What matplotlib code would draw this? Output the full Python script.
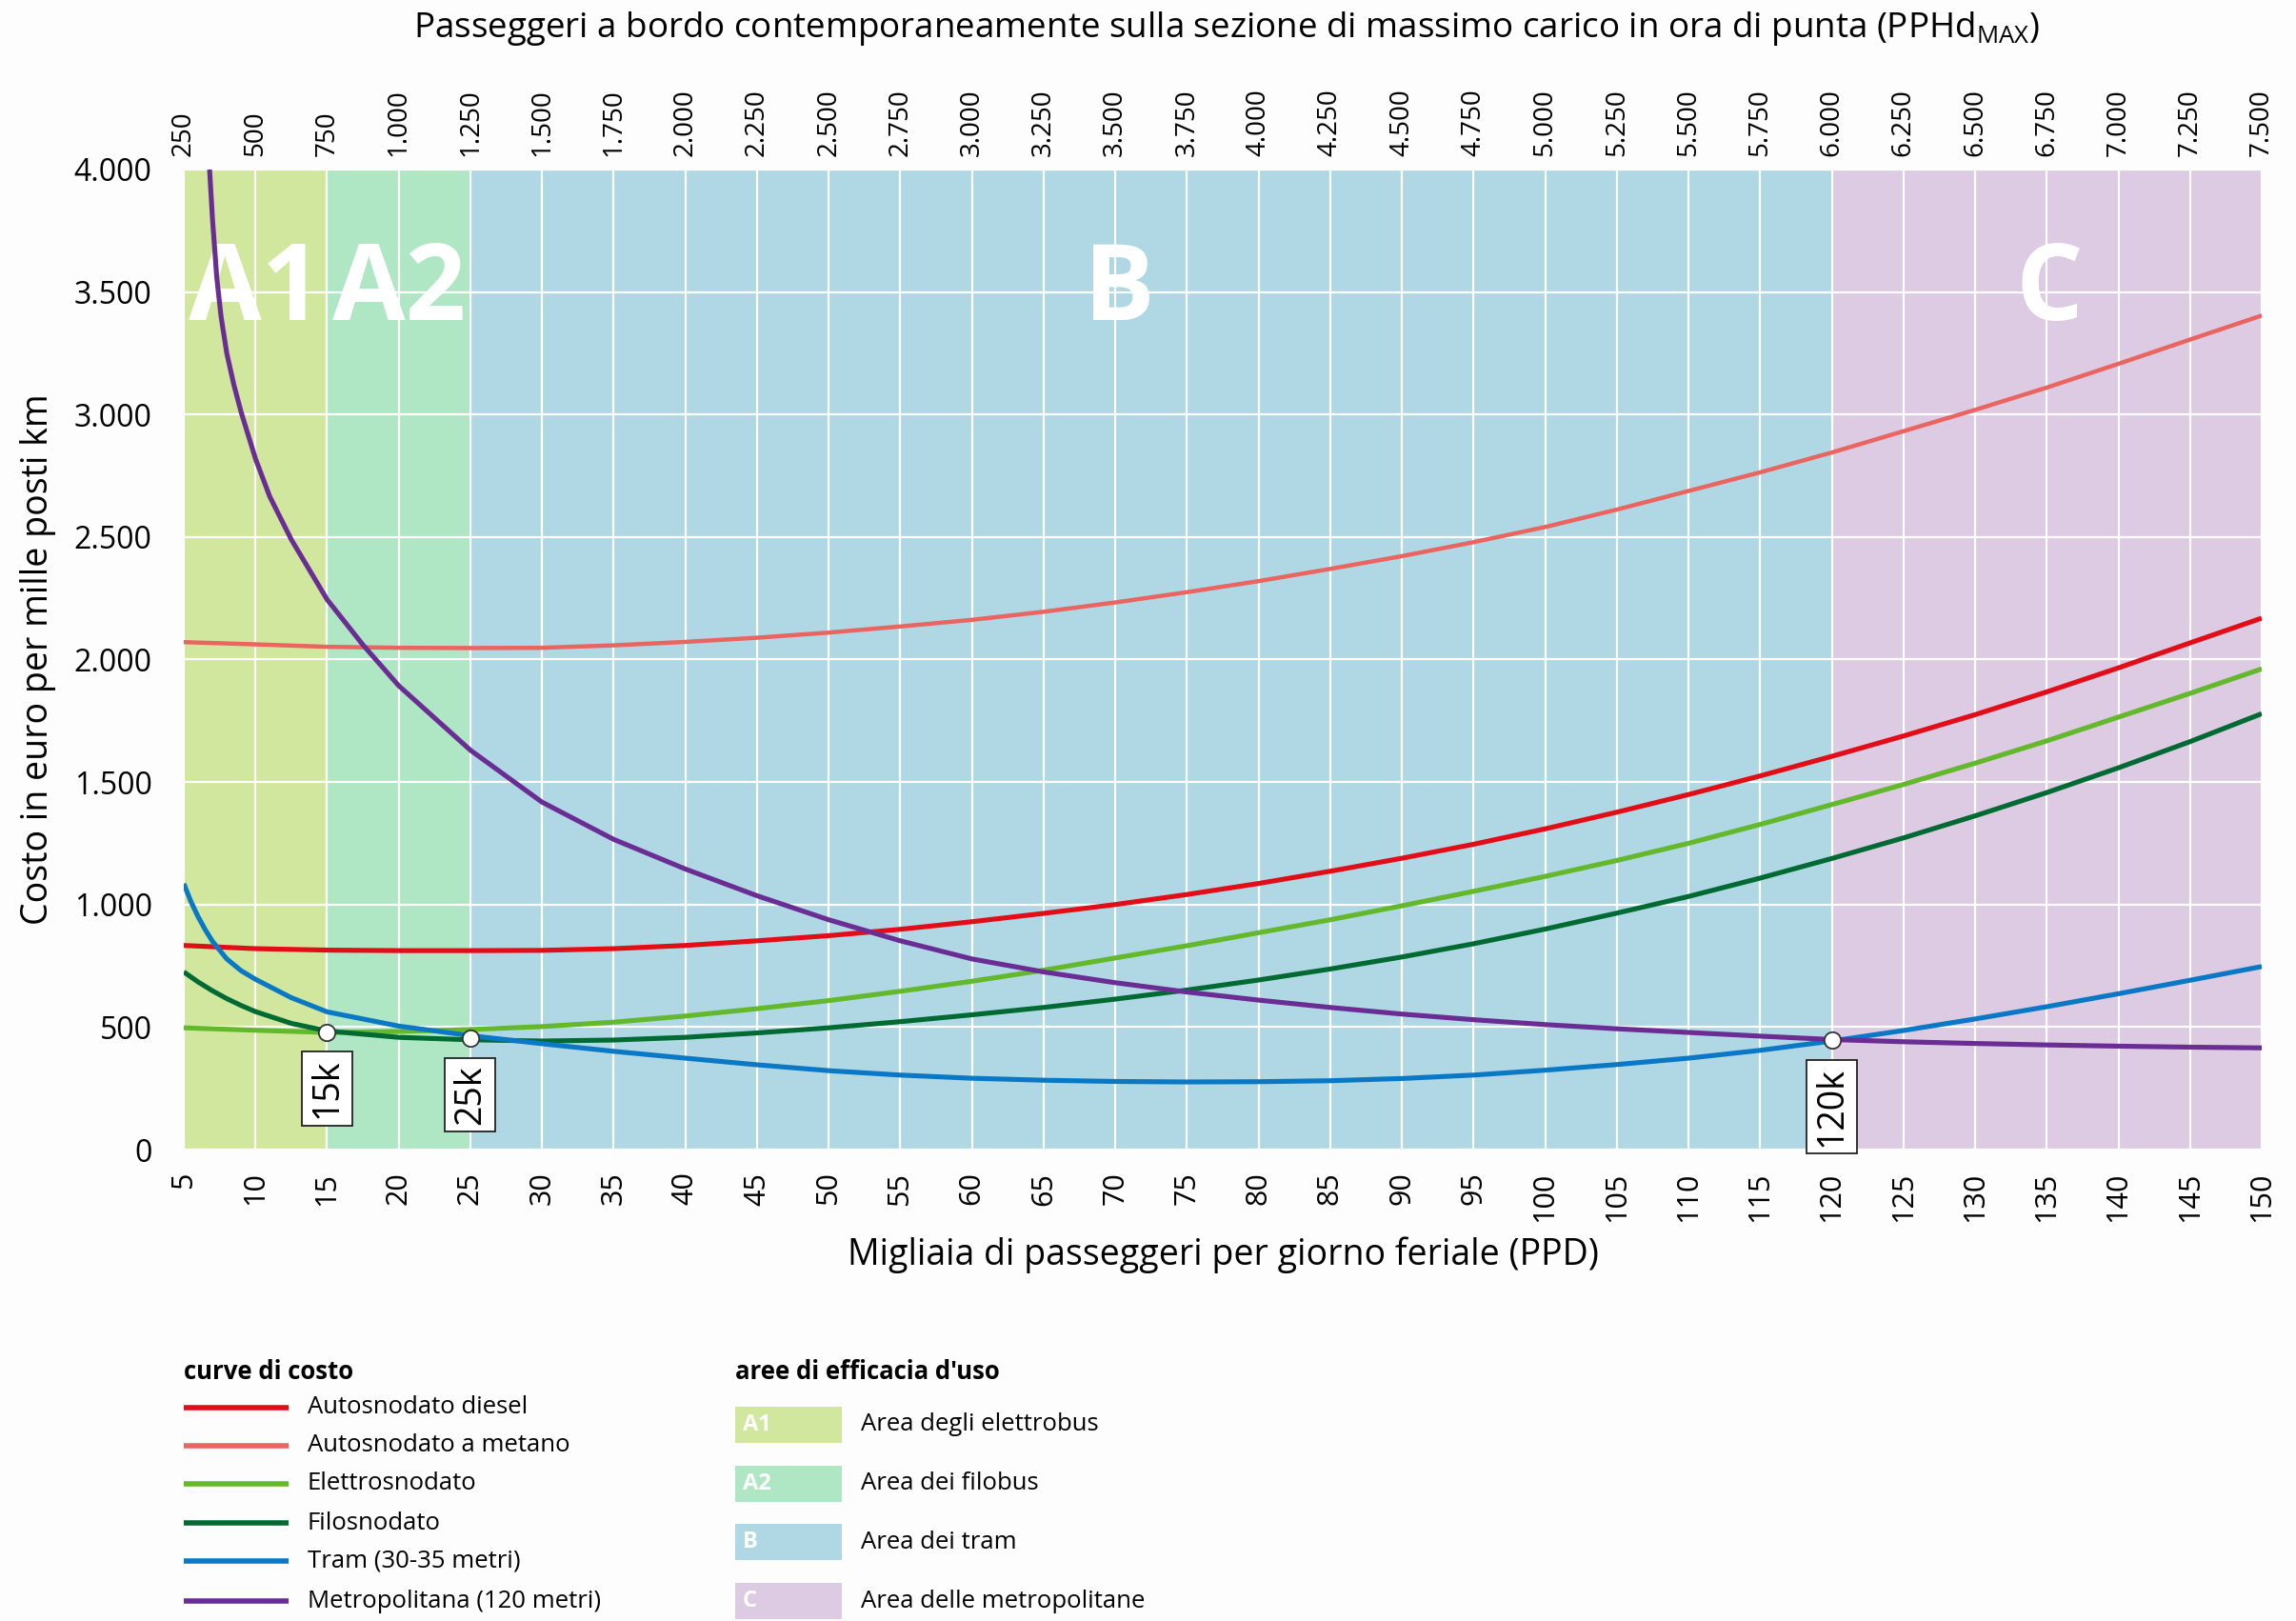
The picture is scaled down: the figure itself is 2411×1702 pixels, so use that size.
import matplotlib
matplotlib.use("Agg")
import matplotlib.pyplot as plt
from matplotlib import font_manager
from matplotlib.patches import Rectangle
from matplotlib.ticker import FuncFormatter

# ---------------------------------------------------------------- fonts
_available = {f.name for f in font_manager.fontManager.ttflist}


def pick(*names):
    for n in names:
        if n in _available:
            return n
    return "DejaVu Sans"


FONT = pick("Open Sans", "Noto Sans", "DejaVu Sans")
plt.rcParams["font.family"] = [FONT, "DejaVu Sans"]
plt.rcParams["mathtext.fontset"] = "custom"
plt.rcParams["mathtext.rm"] = FONT

# ---------------------------------------------------------------- data
# thousands of passengers per weekday (PPD) -> cost in euro per 1000 seat-km
ppd_diesel = [5, 10, 15, 20, 25, 30, 35, 40, 45, 50, 55, 60, 65, 70, 75,
              80, 85, 90, 95, 100, 105, 110, 115, 120, 125, 130, 135, 140, 145, 150]
cost_diesel = [833, 820, 814, 812, 812, 813, 820, 833, 852, 873, 899, 930, 964, 1000, 1041,
               1086, 1136, 1189, 1246, 1309, 1377, 1449, 1525, 1605, 1688, 1775, 1868, 1966, 2068, 2169]

ppd_metano = ppd_diesel
cost_metano = [2071, 2062, 2052, 2048, 2047, 2048, 2058, 2072, 2089, 2110, 2135, 2162, 2195, 2233, 2275,
               2320, 2370, 2422, 2479, 2541, 2612, 2688, 2764, 2845, 2932, 3019, 3110, 3207, 3306, 3404]

ppd_elettro = ppd_diesel
cost_elettro = [497, 487, 478, 482, 490, 502, 520, 545, 575, 608, 646, 687, 732, 782, 832,
                885, 938, 995, 1054, 1115, 1180, 1250, 1327, 1408, 1490, 1577, 1668, 1765, 1862, 1962]

ppd_filo = [5, 6, 7, 8, 9, 10, 12.5, 15, 20, 25, 30, 35, 40, 45, 50, 55, 60, 65, 70, 75,
            80, 85, 90, 95, 100, 105, 110, 115, 120, 125, 130, 135, 140, 145, 150]
cost_filo = [725, 684, 648, 616, 588, 563, 515, 484, 458, 448, 443, 447, 458, 476, 497, 522, 550, 580, 614, 651,
             692, 737, 786, 840, 900, 965, 1033, 1108, 1188, 1272, 1362, 1457, 1558, 1665, 1779]

ppd_tram = [5, 5.5, 6, 6.5, 7, 8, 9, 10, 12.5, 15, 20, 25, 30, 35, 40, 45, 50, 55, 60, 65, 70, 75,
            80, 85, 90, 95, 100, 105, 110, 115, 120, 125, 130, 135, 140, 145, 150]
cost_tram = [1085, 1012, 950, 897, 850, 778, 730, 695, 620, 562, 504, 465, 432, 401, 373, 346, 322, 304, 291,
             283, 278, 276, 277, 281, 290, 304, 324, 347, 373, 405, 443, 486, 533, 583, 636, 691, 747]

ppd_metro = [6.8, 7, 7.3, 7.6, 8, 8.5, 9, 10, 11, 12.5, 15, 17.5, 20, 25, 30, 35, 40, 45, 50, 55, 60, 65,
             70, 75, 80, 85, 90, 95, 100, 105, 110, 115, 120, 125, 130, 135, 140, 145, 150]
cost_metro = [4000, 3800, 3560, 3400, 3250, 3120, 3010, 2820, 2665, 2490, 2245, 2060, 1893, 1630, 1418, 1266,
              1145, 1036, 938, 852, 778, 725, 681, 643, 610, 580, 553, 530, 510, 493, 478, 463, 449, 440, 433,
              427, 422, 418, 415]

series_names = ["Autosnodato diesel", "Autosnodato a metano", "Elettrosnodato",
                "Filosnodato", "Tram (30-35 metri)", "Metropolitana (120 metri)"]
series_x = [ppd_diesel, ppd_metano, ppd_elettro, ppd_filo, ppd_tram, ppd_metro]
series_y = [cost_diesel, cost_metano, cost_elettro, cost_filo, cost_tram, cost_metro]
series_colors = ["#e30d17", "#ea6460", "#64b82c", "#006a33", "#0a78c4", "#6a2d94"]
series_widths = [3.7, 3.2, 3.7, 3.7, 3.7, 3.7]

# areas of effective use
zone_codes = ["A1", "A2", "B", "C"]
zone_names = ["Area degli elettrobus", "Area dei filobus", "Area dei tram", "Area delle metropolitane"]
zone_start = [5, 15, 25, 120]
zone_end = [15, 25, 120, 150]
zone_colors = ["#d1e79d", "#afe6c3", "#b0d8e4", "#dccbe2"]
zone_code_x = [10, 20, 70.3, 135.2]

# thresholds between areas (thousands PPD) and the cost where curves meet
threshold_ppd = [15, 25, 120]
threshold_cost = [480, 453, 447]
threshold_labels = ["15k", "25k", "120k"]

x_ticks = list(range(5, 151, 5))
y_ticks = list(range(0, 4001, 500))
pphd_ticks = list(range(250, 7501, 250))
PPHD_PER_KPPD = 50

# ---------------------------------------------------------------- figure
W, H = 2411, 1702
BG = "#fdfdfd"
fig = plt.figure(figsize=(W / 100, H / 100), dpi=100, facecolor=BG)
ax = fig.add_axes([193 / W, 1 - 1207 / H, (2375 - 193) / W, (1207 - 178) / H])
ax.set_xlim(5, 150)
ax.set_ylim(0, 4000)

for x0, x1, c in zip(zone_start, zone_end, zone_colors):
    ax.axvspan(x0, x1, color=c, lw=0, zorder=0)

ax.set_xticks(x_ticks)
ax.set_yticks(y_ticks)
ax.set_axisbelow(True)
ax.grid(True, color="white", lw=1.6)
for s in ax.spines.values():
    s.set_visible(False)


def dot_thousands(v, _pos=None):
    return f"{int(round(v)):,}".replace(",", ".")


ax.yaxis.set_major_formatter(FuncFormatter(dot_thousands))
ax.tick_params(axis="x", length=0, pad=17, labelsize=22, labelrotation=90)
ax.tick_params(axis="y", length=0, pad=24, labelsize=23)

# area codes, large white letters
for code, xc in zip(zone_codes, zone_code_x):
    ax.text(xc, 3500, code, color="white", fontsize=80, fontweight="bold",
            ha="center", va="center", zorder=1.5)

# cost curves
for xs, ys, c, lw in zip(series_x, series_y, series_colors, series_widths):
    ax.plot(xs, ys, color=c, lw=lw, solid_capstyle="butt", solid_joinstyle="round", zorder=3)

# threshold markers and labels
for xv, yv, lab in zip(threshold_ppd, threshold_cost, threshold_labels):
    ax.plot([xv], [yv], "o", ms=12.5, mfc="white", mec="#333333", mew=1.3, zorder=5)
    ax.annotate(lab, (xv, yv), xytext=(0, -28), textcoords="offset pixels",
                rotation=90, ha="center", va="top", fontsize=27,
                bbox=dict(boxstyle="square,pad=0.2", fc="white", ec="#222222", lw=1.3),
                zorder=6)

# top axis: peak-hour passengers on the most loaded section
sec = ax.secondary_xaxis("top", functions=(lambda x: x * PPHD_PER_KPPD,
                                            lambda x: x / PPHD_PER_KPPD))
sec.set_xticks(pphd_ticks)
sec.xaxis.set_major_formatter(FuncFormatter(dot_thousands))
sec.tick_params(axis="x", length=0, pad=10, labelsize=20, labelrotation=90)
for s in sec.spines.values():
    s.set_visible(False)

# titles of axes
fig.text(1288 / W, 1 - 30 / H,
         r"Passeggeri a bordo contemporaneamente sulla sezione di massimo carico in ora di punta "
         r"(PPHd$_{\mathregular{MAX}}$)",
         ha="center", va="center", fontsize=26.5)
fig.text(1284 / W, 1 - 1318 / H, "Migliaia di passeggeri per giorno feriale (PPD)",
         ha="center", va="center", fontsize=27)
fig.text(40 / W, 1 - 692 / H, "Costo in euro per mille posti km", rotation=90,
         ha="center", va="center", fontsize=27)

# ---------------------------------------------------------------- legend
lg = fig.add_axes([0, 0, 1, 1], zorder=-1)
lg.set_xlim(0, W)
lg.set_ylim(H, 0)
lg.axis("off")

lg.text(193, 1440, "curve di costo", fontsize=18.5, fontweight="bold",
        ha="left", va="center")
row_y = [1478, 1518, 1558, 1599, 1639, 1681]
for yy, name, c in zip(row_y, series_names, series_colors):
    lg.plot([193, 303], [yy, yy], color=c, lw=4, solid_capstyle="butt")
    lg.text(323, yy, name, fontsize=18.5, ha="left", va="center")

lg.text(772, 1440, "aree di efficacia d'uso", fontsize=18.5, fontweight="bold",
        ha="left", va="center")
zone_row_y = [1496, 1558, 1619, 1681]
for yy, code, name, c in zip(zone_row_y, zone_codes, zone_names, zone_colors):
    lg.add_patch(Rectangle((772, yy - 19), 112, 38, facecolor=c, edgecolor="none"))
    lg.text(780, yy, code, fontsize=17, fontweight="bold", color="white",
            ha="left", va="center")
    lg.text(904, yy, name, fontsize=18.5, ha="left", va="center")

fig.savefig("out.png", dpi=100, facecolor=BG)
